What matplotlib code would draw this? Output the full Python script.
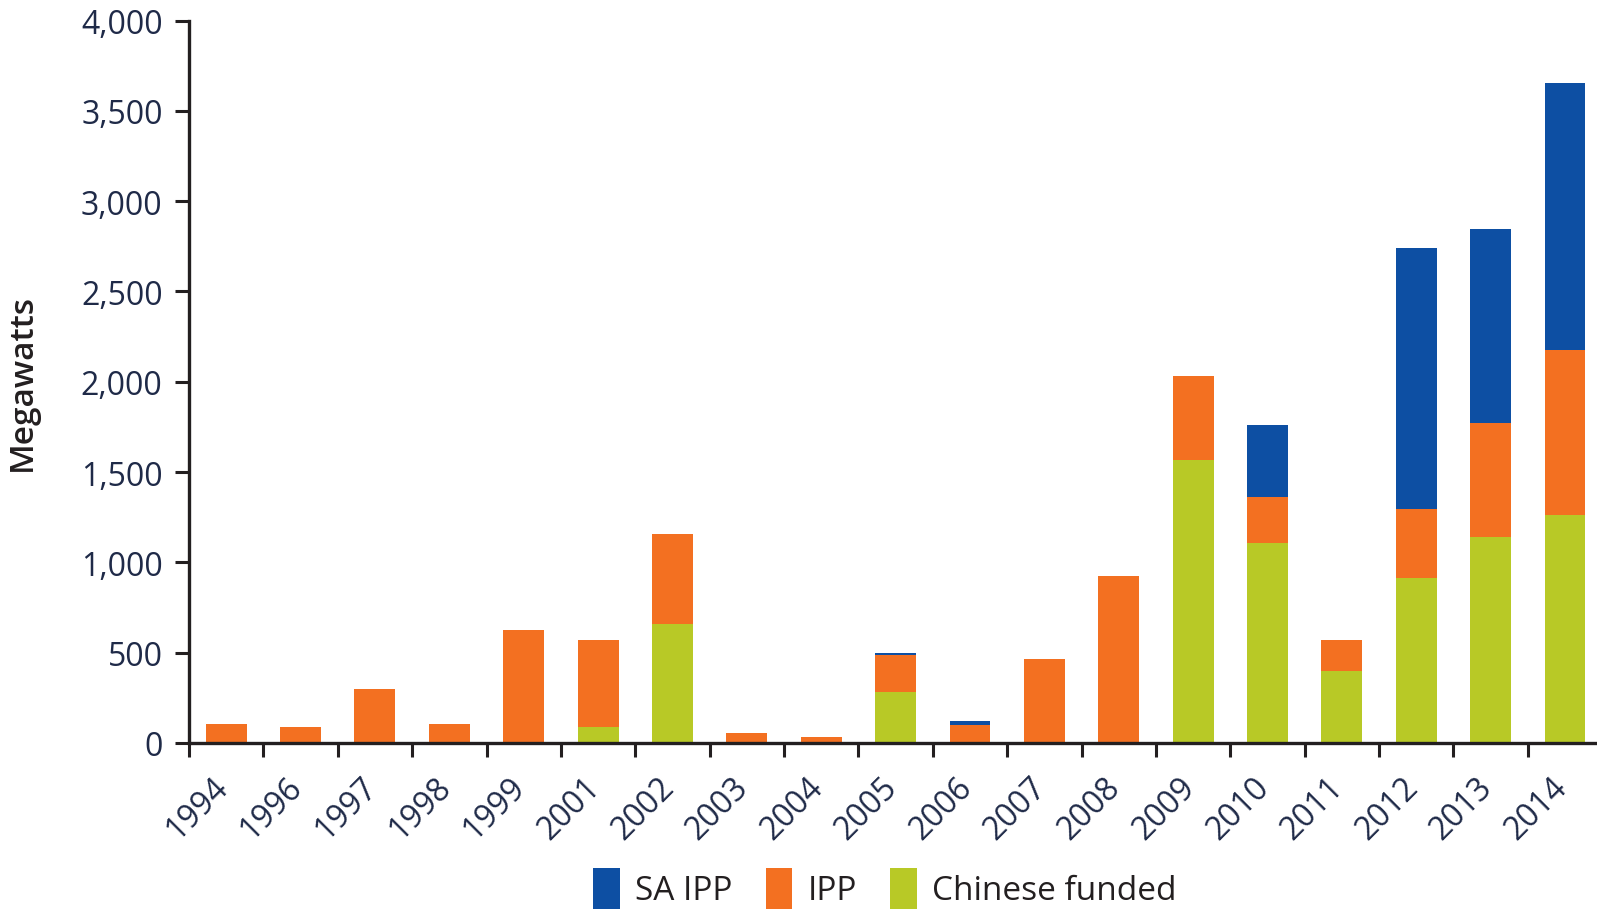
"""Stacked bar chart of power capacity by funding source, 1994-2014."""

import matplotlib.pyplot as plt
import numpy as np

years = ["1994", "1996", "1997", "1998", "1999", "2001", "2002", "2003", "2004",
         "2005", "2006", "2007", "2008", "2009", "2010", "2011", "2012", "2013", "2014"]
chinese_funded = [0, 0, 0, 0, 0, 90, 660, 0, 0,
                  280, 0, 0, 0, 1565, 1105, 400, 915, 1142, 1260]
ipp = [105, 90, 300, 105, 625, 480, 495, 55, 35,
       205, 102, 467, 927, 465, 258, 170, 383, 631, 914]
sa_ipp = [0, 0, 0, 0, 0, 0, 0, 0, 0,
          16, 22, 0, 0, 0, 395, 0, 1440, 1071, 1478]

BLUE = "#0d4fa3"
ORANGE = "#f37021"
GREEN = "#b8c926"
AXIS = "#231f20"
TEXT = "#1f2a48"

plt.rcParams["font.family"] = ["Open Sans", "DejaVu Sans"]

fig = plt.figure(figsize=(15.97, 9.12), dpi=100)
ax = fig.add_axes([189 / 1597, (912 - 744) / 912, (1597 - 189) / 1597, (744 - 21.5) / 912])

x = np.arange(len(years))
width = 0.55
green = np.array(chinese_funded)
orange = np.array(ipp)
blue = np.array(sa_ipp)

ax.bar(x, green, width, color=GREEN, label="Chinese funded")
ax.bar(x, orange, width, bottom=green, color=ORANGE, label="IPP")
ax.bar(x, blue, width, bottom=green + orange, color=BLUE, label="SA IPP")

ax.set_ylim(0, 4000)
ax.set_xlim(-0.5, 18.43)
ax.set_yticks(np.arange(0, 4001, 500))
ax.set_yticklabels([f"{v:,}" for v in range(0, 4001, 500)], fontsize=23, color=TEXT)

# year labels sit a little left of the bar centre, as in the original
ax.set_xticks(x - 0.2)
ax.set_xticklabels(years, rotation=45, ha="right", va="top", rotation_mode="anchor",
                   fontsize=23, color=TEXT)
ax.set_xticks(np.arange(-0.5, 18.0, 1.0), minor=True)
ax.tick_params(axis="x", which="major", length=0, pad=20)
ax.tick_params(axis="x", which="minor", length=10, width=2.2, color=AXIS)
ax.tick_params(axis="y", length=10, width=2.2, color=AXIS, pad=9)

for side in ["top", "right"]:
    ax.spines[side].set_visible(False)
for side in ["left", "bottom"]:
    ax.spines[side].set_linewidth(2.4)
    ax.spines[side].set_color(AXIS)

ax.set_ylabel("Megawatts", fontsize=24, fontweight="semibold", color=AXIS, labelpad=30)

handles, labels = ax.get_legend_handles_labels()
fig.legend(handles[::-1], labels[::-1], loc="upper center", bbox_to_anchor=(0.554, 0.08),
           ncol=3, frameon=False, fontsize=24, handlelength=0.8, handleheight=1.5,
           handletextpad=0.45, columnspacing=1.0, labelcolor=AXIS)

fig.savefig("out.png", dpi=100)
